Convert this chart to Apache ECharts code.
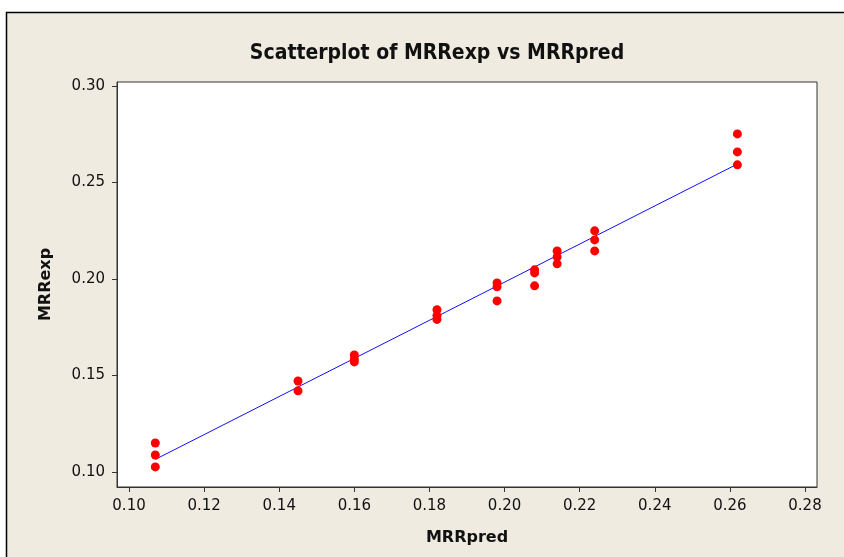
<!DOCTYPE html>
<html><head><meta charset="utf-8">
<script src="https://cdn.jsdelivr.net/npm/echarts@6/dist/echarts.min.js"></script>
<style>html,body{margin:0;padding:0;background:#fff}#c{width:844px;height:557px}</style>
</head><body><div id="c"></div>
<script>
const xTicks = [0.10,0.12,0.14,0.16,0.18,0.20,0.22,0.24,0.26,0.28];
const yTicks = [0.10,0.15,0.20,0.25,0.30];
const mrrPred = [0.107,0.107,0.107,0.145,0.145,0.160,0.160,0.160,0.182,0.182,0.182,0.198,0.198,0.198,0.208,0.208,0.208,0.214,0.214,0.214,0.224,0.224,0.224,0.262,0.262,0.262];
const mrrExp  = [0.115,0.1088,0.1026,0.1471,0.142,0.1606,0.1585,0.157,0.184,0.181,0.179,0.1979,0.1959,0.1886,0.2047,0.2031,0.1964,0.2145,0.2114,0.2078,0.2249,0.2202,0.2145,0.2751,0.2658,0.2591];
const fitX = [0.107,0.262];
const fitY = [0.1065,0.2595];

const chart = echarts.init(document.getElementById('c'));
chart.setOption({
  animation:false,
  backgroundColor:'#fff',
  graphic:[{type:'rect',z:-10,shape:{x:6.5,y:12.5,width:850,height:560},style:{fill:'#EFEBE1',stroke:'#000',lineWidth:1.5}}],
  title:{text:'Scatterplot of MRRexp vs MRRpred',left:432,top:38,textAlign:'center',
    textStyle:{fontFamily:'DejaVu Sans Condensed',fontWeight:'bold',fontSize:21,color:'#111'}},
  grid:{left:117,top:82,width:700,height:405,show:true,backgroundColor:'#fff',borderColor:'#333',borderWidth:1},
  xAxis:{type:'value',min:0.0968,max:0.2832,
    name:'MRRpred',nameLocation:'middle',nameGap:43,
    nameTextStyle:{fontFamily:'DejaVu Sans',fontWeight:'bold',fontSize:16,color:'#111'},
    axisLine:{show:true,lineStyle:{color:'#333'}},
    axisTick:{show:true,length:5,lineStyle:{color:'#333'},customValues:xTicks},
    axisLabel:{customValues:xTicks,formatter:v=>v.toFixed(2),fontFamily:'DejaVu Sans',fontSize:15,color:'#111',margin:12},
    splitLine:{show:false}},
  yAxis:{type:'value',min:0.0922,max:0.302,
    name:'MRRexp',nameLocation:'middle',nameGap:63,
    nameTextStyle:{fontFamily:'DejaVu Sans',fontWeight:'bold',fontSize:16,color:'#111'},
    axisLine:{show:true,lineStyle:{color:'#333'}},
    axisTick:{show:true,length:5,lineStyle:{color:'#333'},customValues:yTicks},
    axisLabel:{customValues:yTicks,formatter:v=>v.toFixed(2),fontFamily:'DejaVu Sans',fontSize:15,color:'#111',margin:12},
    splitLine:{show:false}},
  series:[
    {type:'line',data:fitX.map((x,i)=>[x,fitY[i]]),symbol:'none',lineStyle:{color:'#1010FF',width:1},z:2},
    {type:'scatter',data:mrrPred.map((x,i)=>[x,mrrExp[i]]),symbolSize:9,itemStyle:{color:'#FF0000',opacity:1},z:3}
  ]
});
</script></body></html>
